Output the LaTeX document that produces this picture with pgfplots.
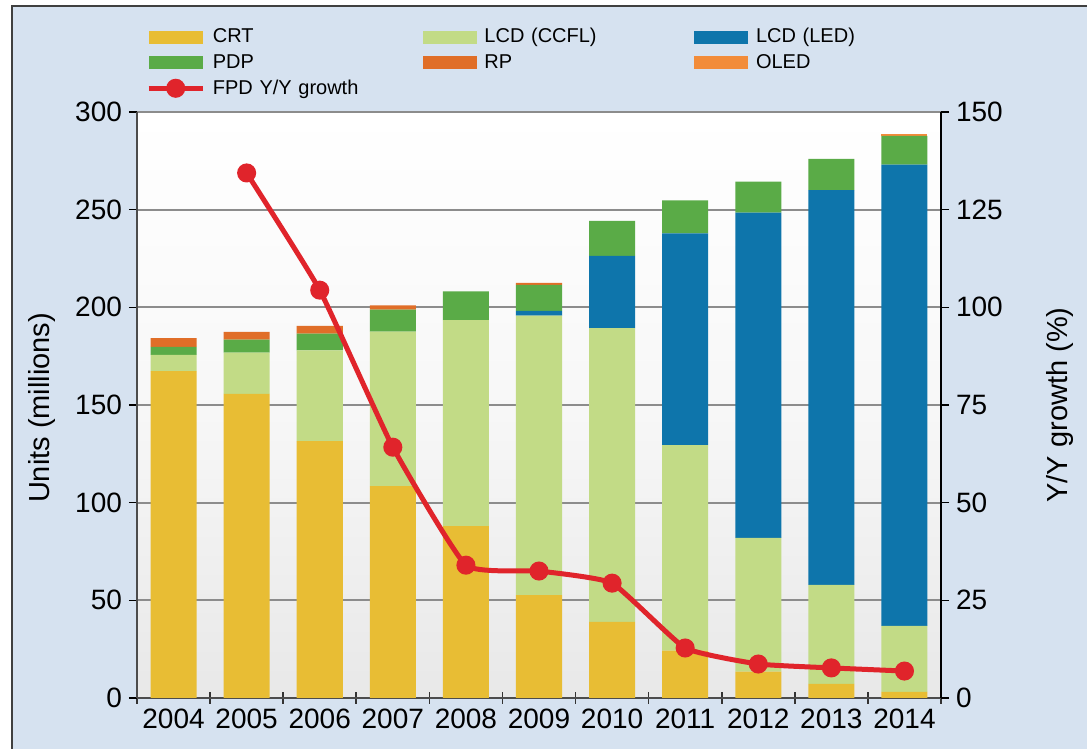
\documentclass[border=0pt]{standalone}
\usepackage{pgfplots}
\pgfplotsset{compat=1.18}
\usepackage{pgfplotstable}
\usepackage{fontspec}
\setmainfont{Liberation Sans}
\definecolor{bgblue}{HTML}{D6E2F0}
\definecolor{ccrt}{HTML}{E8BD34}
\definecolor{cccfl}{HTML}{C2DB86}
\definecolor{cled}{HTML}{0E75AB}
\definecolor{cpdp}{HTML}{5AAB47}
\definecolor{crp}{HTML}{E06E28}
\definecolor{coled}{HTML}{F28C3A}
\definecolor{cred}{HTML}{E0242B}

\pgfplotstableread{
x CRT CCFL LED PDP RP OLED
0 167.4 8.2 0 4.2 4.4 0
1 155.7 21.1 0 6.7 3.9 0
2 131.5 46.5 0 8.5 4.0 0
3 108.5 79.1 0 11.2 2.2 0
4 88.0 105.5 0 14.7 0 0
5 52.7 143.0 2.5 13.3 1.0 0
6 39.0 150.4 37.0 17.9 0 0
7 24.2 105.3 108.4 16.9 0 0
8 13.5 68.5 166.5 15.9 0 0
9 7.2 50.7 202.1 16.0 0 0
10 3.1 33.8 236.1 14.8 0 1.0
}\units

\pgfplotstableread{
x g
1 134.4
2 104.4
3 64.2
4 34.0
5 32.5
6 29.4
7 12.8
8 8.7
9 7.7
10 6.9
}\growth

\begin{document}
\begin{tikzpicture}
\useasboundingbox (0,0) rectangle (543.5pt,-374.5pt);
\fill[bgblue] (6pt,-3pt) rectangle (600pt,-400pt);
\draw[line width=1pt, black!75] (6pt,-400pt) -- (6pt,-3pt) -- (600pt,-3pt);

\pgfplotsset{
  myaxis/.style={
    width=402pt, height=293pt, scale only axis,
    at={(68.5pt,-56pt)}, anchor=north west,
    xmin=-0.5, xmax=10.5,
    tick align=outside,
    tick label style={font=\fontsize{14}{14}\selectfont},
    /pgf/number format/assume math mode=true,
  },
  barsty/.style={fill=#1, draw=none,
    legend image code/.code={\fill[#1] (0pt,-3.25pt) rectangle (27pt,3.25pt);}},
}

\begin{axis}[myaxis,
  ymin=0, ymax=300,
  ybar stacked, bar width=0.63,
  axis x line*=bottom, axis y line*=left,
  axis line style={black!70, line width=0.9pt},
  xtick={0,...,10},
  xticklabels={2004,2005,2006,2007,2008,2009,2010,2011,2012,2013,2014},
  major x tick style={draw=none},
  minor xtick={-0.5,0.5,...,10.5},
  minor x tick style={black!80, line width=0.8pt},
  xtick align=center,
  minor tick length=6pt,
  ytick={0,50,...,300},
  major tick length=4pt,
  y tick style={black, line width=0.8pt},
  ymajorgrids,
  major grid style={black!45, line width=0.9pt},
  axis background/.style={shade, top color=white, bottom color=black!9, middle color=white!97!black},
  ylabel={Units (millions)},
  every axis y label/.style={at={(axis description cs:-0.118,0.495)}, rotate=90, anchor=center, font=\fontsize{14.5}{15}\selectfont},
  legend columns=3,
  legend style={at={(axis description cs:0.011,1.147)}, anchor=north west,
    draw=none, fill=none, font=\fontsize{10}{12}\selectfont,
    inner sep=0pt, row sep=2.2pt,
    nodes={text width=103pt, align=left, inner xsep=2pt, inner ysep=1pt, anchor=west},
    /tikz/every odd column/.append style={column sep=1.8pt}},
]
\addplot[barsty=ccrt] table[x=x,y=CRT]{\units};
\addlegendentry{CRT}
\addplot[barsty=cccfl] table[x=x,y=CCFL]{\units};
\addlegendentry{LCD (CCFL)}
\addplot[barsty=cled] table[x=x,y=LED]{\units};
\addlegendentry{LCD (LED)}
\addplot[barsty=cpdp] table[x=x,y=PDP]{\units};
\addlegendentry{PDP}
\addplot[barsty=crp] table[x=x,y=RP]{\units};
\addlegendentry{RP}
\addplot[barsty=coled] table[x=x,y=OLED]{\units};
\addlegendentry{OLED}
\addlegendimage{cred, line width=2.5pt,
  legend image code/.code={\draw[cred, line width=2.5pt] (0pt,0pt) -- (27pt,0pt); \fill[cred] (13.5pt,0pt) circle (3.5pt);}}
\addlegendentry{FPD Y/Y growth}
\end{axis}

\begin{axis}[myaxis,
  ymin=0, ymax=150,
  axis x line=none, axis y line*=right,
  axis line style={black, line width=0.9pt},
  ytick={0,25,...,150},
  major tick length=4pt,
  y tick style={black, line width=0.8pt},
  ylabel={Y/Y growth (\%)},
  every axis y label/.style={at={(axis description cs:1.148,0.50)}, rotate=90, anchor=center, font=\fontsize{14.5}{15}\selectfont},
]
\addplot[cred, line width=2.5pt, mark=*, mark size=3.5pt, smooth, tension=0.25] table[x=x,y=g]{\growth};
\end{axis}
\end{tikzpicture}
\end{document}
